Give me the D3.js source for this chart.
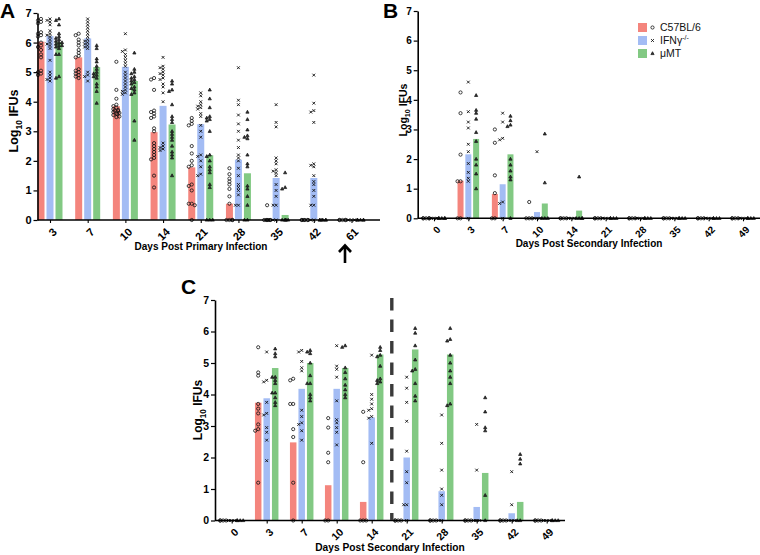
<!DOCTYPE html>
<html><head><meta charset="utf-8">
<script src="https://cdn.jsdelivr.net/npm/d3@7"></script>
<style>body{margin:0;background:#fff}</style>
</head><body>
<svg id="chart" width="760" height="555"></svg>
<script>
// ---------- data ----------
const seriesNames = ["C57BL/6", "IFNγ", "μMT"];
const seriesColors = ["#f4857d", "#a3bcf4", "#82c983"];
const seriesMarkers = ["circle", "cross", "triangle"];
const yTicks = [0, 1, 2, 3, 4, 5, 6, 7];

// Panel A: primary infection
const daysA = ["3", "7", "10", "14", "21", "28", "35", "42", "61"];
const meanA_B6 = [6.03, 5.5, 3.85, 2.97, 1.78, 0.55, 0, 0, 0];
const meanA_IFNg = [6.22, 6.14, 5.18, 3.86, 3.24, 2.04, 1.42, 1.42, 0];
const meanA_muMT = [6.02, 5.17, 4.7, 3.23, 2.19, 1.58, 0.17, 0, 0];
const ptsA_B6 = [
  [6.8, 6.75, 6.7, 6.65, 6.35, 6.3, 6.25, 6.2, 6.0, 5.9, 5.85, 5.75, 5.6, 5.5, 5.05, 5.0, 4.95, 4.9],
  [6.3, 6.25, 6.1, 6.0, 5.9, 5.75, 5.65, 5.55, 5.5, 5.1, 5.05, 5.0, 4.95, 4.9, 4.85, 4.8],
  [5.35, 4.4, 4.1, 3.9, 3.85, 3.8, 3.75, 3.72, 3.7, 3.68, 3.65, 3.62, 3.6, 3.58, 3.55, 3.5, 3.48],
  [4.8, 4.75, 4.4, 3.7, 3.65, 3.6, 3.5, 3.45, 3.1, 3.0, 2.6, 2.5, 2.4, 2.3, 2.2, 2.1, 2.05, 1.5, 1.1],
  [3.45, 3.35, 3.25, 3.2, 2.5, 2.25, 2.0, 1.85, 1.8, 1.2, 1.15, 1.0, 0.55, 0.55, 0.5, 0],
  [1.75, 1.55, 1.4, 1.3, 1.2, 1.05, 0.8, 0.55, 0, 0, 0, 0],
  [0.5, 0, 0, 0, 0, 0, 0],
  [0, 0, 0, 0, 0, 0],
  [0, 0, 0, 0, 0]
];
const ptsA_IFNg = [
  [6.8, 6.75, 6.7, 6.6, 6.4, 6.3, 6.25, 6.2, 6.1, 6.0, 5.95, 5.9, 5.8, 5.4, 5.0, 4.9, 4.8, 4.75, 4.7],
  [6.8, 6.7, 6.6, 6.5, 6.4, 6.3, 6.2, 6.1, 6.05, 6.0, 5.95, 5.9, 5.85, 5.8, 5.0, 4.9, 4.85, 4.7],
  [6.3, 5.75, 5.7, 5.6, 5.5, 5.4, 5.3, 5.2, 5.0, 4.9, 4.8, 4.7, 4.6, 4.5, 4.4, 4.35, 4.3, 4.25],
  [5.5, 5.2, 5.15, 5.1, 5.0, 4.95, 4.9, 4.8, 4.75, 4.6, 4.5, 4.3, 4.0, 2.6, 2.5, 2.45, 2.4, 2.35],
  [4.3, 4.2, 4.0, 3.9, 3.85, 3.8, 3.75, 3.6, 3.5, 3.2, 3.0, 2.8, 2.2, 2.15, 2.0, 1.8, 1.55, 1.5],
  [5.15, 4.05, 3.9, 3.55, 3.25, 3.0, 2.7, 2.45, 2.2, 2.1, 2.0, 1.75, 1.5, 1.2, 1.1, 1.0, 0.85, 0.5, 0.5],
  [3.9, 3.3, 3.15, 2.1, 2.0, 1.9, 1.7, 1.65, 1.6, 1.5, 1.2, 1.0, 0.8, 0.5, 0.5, 0, 0],
  [4.9, 3.95, 3.7, 3.65, 3.3, 1.9, 1.85, 1.8, 1.5, 1.3, 1.2, 1.0, 0.8, 0.5, 0.5, 0, 0],
  [0, 0, 0, 0, 0]
];
const ptsA_muMT = [
  [6.8, 6.75, 6.6, 6.3, 6.2, 6.15, 6.1, 6.05, 6.0, 6.0, 5.95, 5.9, 5.9, 5.85, 5.8, 5.6, 5.6, 4.85, 4.8],
  [5.9, 5.8, 5.45, 5.35, 5.2, 5.1, 5.0, 4.95, 4.9, 4.85, 4.8, 4.6, 4.5, 4.35, 3.95],
  [5.65, 5.1, 5.0, 4.95, 4.85, 4.8, 4.75, 4.7, 4.65, 4.6, 4.5, 4.45, 4.4, 4.3, 4.25, 3.35, 2.7],
  [4.7, 4.6, 4.4, 4.35, 3.9, 3.5, 3.4, 3.3, 3.0, 2.9, 2.8, 2.7, 2.5, 2.3, 2.2, 2.1, 1.5],
  [4.4, 4.1, 3.8, 3.5, 3.45, 3.4, 3.35, 3.0, 2.2, 2.15, 2.0, 1.8, 1.7, 1.6, 1.2, 1.1, 0, 0, 0],
  [3.65, 3.4, 3.05, 2.85, 2.8, 2.75, 2.2, 1.9, 1.8, 1.15, 1.05, 0.8, 0.5, 0, 0],
  [1.6, 1.1, 1.05, 0, 0, 0, 0, 0],
  [0, 0, 0, 0, 0, 0],
  [0, 0, 0, 0, 0]
];

// Panel B: secondary infection
const daysB = ["0", "3", "7", "10", "14", "21", "28", "35", "42", "49"];
const meanB_B6 = [0, 1.27, 0.82, 0, 0, 0, 0, 0, 0, 0];
const meanB_IFNg = [0, 2.16, 1.15, 0.21, 0, 0, 0, 0, 0, 0];
const meanB_muMT = [0, 2.68, 2.16, 0.5, 0.26, 0, 0, 0, 0, 0];
const ptsB_B6 = [
  [0, 0, 0, 0, 0], [4.25, 3.55, 2.15, 1.25, 1.25, 0, 0], [3.0, 2.55, 1.45, 0.85, 0, 0],
  [0.55, 0, 0, 0], [0, 0, 0, 0], [0, 0, 0, 0], [0, 0, 0, 0], [0, 0, 0, 0], [0, 0, 0, 0], [0, 0, 0, 0]
];
const ptsB_IFNg = [
  [0, 0, 0, 0, 0], [4.6, 3.6, 3.25, 3.05, 2.5, 2.25, 1.85, 1.55, 1.35, 1.25, 0],
  [3.55, 3.25, 2.7, 2.65, 0.55, 0.5, 0], [2.25, 0, 0, 0], [0, 0, 0, 0],
  [0, 0, 0, 0], [0, 0, 0, 0], [0, 0, 0, 0], [0, 0, 0, 0], [0, 0, 0, 0]
];
const ptsB_muMT = [
  [0, 0, 0, 0, 0], [4.15, 3.65, 3.55, 3.35, 2.9, 2.6, 2.0, 1.8, 1.5, 1.0],
  [3.45, 3.3, 3.15, 3.1, 2.0, 1.8, 1.6, 1.4, 1.3, 0], [2.85, 1.2, 0, 0, 0], [1.4, 0, 0, 0, 0],
  [0, 0, 0, 0], [0, 0, 0, 0], [0, 0, 0, 0], [0, 0, 0, 0], [0, 0, 0, 0]
];

// Panel C
const daysC = ["0", "3", "7", "10", "14", "21", "28", "35", "42", "49"];
const meanC_B6 = [0, 3.74, 2.48, 1.12, 0.59, 0, 0, 0, 0, 0];
const meanC_IFNg = [0, 3.88, 4.18, 4.18, 3.27, 2.0, 0.93, 0.43, 0.23, 0];
const meanC_muMT = [0, 4.84, 5.0, 4.84, 5.27, 5.43, 5.27, 1.51, 0.59, 0];
const ptsC_B6 = [
  [0, 0, 0, 0], [5.5, 4.7, 4.6, 3.7, 3.55, 3.4, 3.05, 2.9, 2.85, 1.2],
  [4.5, 4.45, 3.7, 3.7, 2.9, 2.65, 1.2, 0], [3.25, 2.95, 2.15, 1.85, 0, 0], [3.45, 1.85, 0, 0, 0],
  [0, 0, 0, 0], [0, 0, 0, 0], [0, 0, 0, 0], [0, 0, 0, 0], [0, 0, 0, 0]
];
const ptsC_IFNg = [
  [0, 0, 0, 0], [5.35, 4.45, 4.4, 3.75, 3.4, 3.35, 2.95, 2.8, 2.55, 1.9],
  [5.4, 5.35, 5.05, 4.85, 4.75, 3.5, 3.3, 3.1, 3.05, 2.85, 2.55],
  [5.55, 4.9, 4.8, 4.55, 3.8, 3.2, 3.1, 2.95, 2.8, 2.4],
  [5.25, 4.0, 3.85, 3.7, 3.55, 3.5, 3.3, 3.25, 2.45],
  [4.55, 4.2, 3.75, 3.15, 2.2, 1.55, 1.2, 0.5, 0.5, 0],
  [3.35, 2.45, 1.6, 1.0, 0.8, 0.5, 0, 0], [3.05, 1.6, 0, 0, 0, 0], [1.55, 0.5, 0, 0, 0], [0, 0, 0, 0]
];
const ptsC_muMT = [
  [0, 0, 0, 0], [5.45, 5.3, 5.2, 4.55, 4.55, 4.45, 4.35, 4.05, 4.05, 3.9, 3.75, 3.65],
  [5.4, 5.35, 5.3, 5.0, 4.6, 4.35, 4.35, 4.0, 3.9, 3.8],
  [5.55, 5.5, 4.85, 4.7, 4.5, 4.3, 4.15, 4.0, 3.9],
  [5.5, 5.4, 5.25, 5.2, 4.9, 4.5, 4.45, 4.4, 4.35],
  [6.1, 5.95, 5.55, 5.1, 4.8, 4.75, 4.35, 3.95, 3.8],
  [6.1, 5.75, 5.7, 5.25, 5.0, 4.75, 4.55, 4.35, 3.7, 3.65],
  [3.9, 3.45, 2.95, 2.85, 0.8, 0], [2.1, 1.95, 1.8, 0, 0], [0, 0, 0, 0]
];

// ---------- drawing ----------
const FONT = "Arial, 'Liberation Sans', Helvetica, sans-serif";
const svg = d3.select("#chart");

function drawMarker(g, type, x, y) {
  if (type === "circle") {
    g.append("circle").attr("cx", x).attr("cy", y).attr("r", 1.6)
      .attr("fill", "none").attr("stroke", "#111").attr("stroke-width", 0.8);
  } else if (type === "cross") {
    g.append("path").attr("transform", `translate(${x},${y})`)
      .attr("d", "M-1.4,-1.4L1.4,1.4M-1.4,1.4L1.4,-1.4")
      .attr("stroke", "#111").attr("stroke-width", 0.9);
  } else {
    g.append("path").attr("transform", `translate(${x},${y})`)
      .attr("d", "M0,-1.8L1.6,1.1L-1.6,1.1Z")
      .attr("fill", "#333").attr("stroke", "#111").attr("stroke-width", 0.7);
  }
}

function panel(cfg) {
  const g = svg.append("g");
  const y = d3.scaleLinear().domain([0, 7]).range(cfg.yRange);
  const x = d3.scalePoint().domain(cfg.days).range(cfg.xRange);

  // bars
  cfg.means.forEach((m, s) => {
    g.append("g").selectAll("rect")
      .data(cfg.days.map((d, i) => ({ d, v: m[i] })))
      .join("rect")
      .attr("x", d => x(d.d) + cfg.off * (s - 1) - cfg.barW / 2)
      .attr("y", d => y(d.v))
      .attr("width", cfg.barW)
      .attr("height", d => y(0) - y(d.v))
      .attr("fill", seriesColors[s]);
  });

  // points (compact beeswarm)
  const pg = g.append("g");
  cfg.points.forEach((ptsBySeries, s) => {
    ptsBySeries.forEach((vals, i) => {
      const cx = x(cfg.days[i]) + cfg.off * (s - 1);
      const placed = [];
      const cands = [0, -1.8, 1.8, -3, 3, -0.9, 0.9];
      vals.forEach((v, k) => {
        const py = y(v);
        let dx = null;
        for (const c of cands) {
          if (placed.every(p => Math.hypot(p[0] - c, p[1] - py) >= 2.9)) { dx = c; break; }
        }
        if (dx === null) dx = cands[k % cands.length];
        placed.push([dx, py]);
        drawMarker(pg, seriesMarkers[s], cx + dx, py);
      });
    });
  });

  // y axis
  const ya = g.append("g").attr("transform", `translate(${cfg.axisX[0]},0)`)
    .call(d3.axisLeft(y).tickValues(yTicks).tickSize(4).tickSizeOuter(0).tickFormat(d3.format("d")));
  ya.select(".domain").attr("stroke", "#000").attr("stroke-width", 1.6);
  ya.selectAll(".tick line").attr("stroke-width", 1.2);
  ya.selectAll(".tick text").attr("font-family", FONT).attr("font-weight", "bold")
    .attr("font-size", cfg.tickFs).attr("fill", "#000").attr("x", -6);

  // x axis (ticks from the axis generator, rotated labels drawn explicitly)
  const xa = g.append("g").attr("transform", `translate(0,${y(0)})`)
    .call(d3.axisBottom(x).tickSize(3).tickSizeOuter(0).tickFormat(""));
  xa.select(".domain").remove();
  xa.selectAll(".tick text").remove();
  xa.append("line").attr("x1", cfg.axisX[0]).attr("x2", cfg.axisX[1])
    .attr("stroke", "#000").attr("stroke-width", 1.6);
  xa.selectAll(".tick line").attr("stroke-width", 1.1);
  g.append("g").selectAll("text").data(cfg.days).join("text")
    .attr("transform", d => `translate(${x(d) + 2},${y(0) + 7}) rotate(-45)`)
    .attr("text-anchor", "end").attr("dy", "0.72em")
    .attr("font-family", FONT).attr("font-weight", "bold")
    .attr("font-size", cfg.tickFs).attr("fill", "#000")
    .text(d => d);

  // axis titles
  g.append("text").attr("x", cfg.xTitle[0]).attr("y", cfg.xTitle[1])
    .attr("text-anchor", "middle").attr("font-family", FONT).attr("font-weight", "bold")
    .attr("font-size", cfg.titleFs).text(cfg.xLabel);
  const yt = g.append("text")
    .attr("transform", `translate(${cfg.yTitle[0]},${cfg.yTitle[1]}) rotate(-90)`)
    .attr("text-anchor", "middle").attr("font-family", FONT).attr("font-weight", "bold")
    .attr("font-size", cfg.yTitleFs);
  yt.append("tspan").text("Log");
  yt.append("tspan").attr("font-size", cfg.yTitleFs * 0.68).attr("dy", cfg.yTitleFs * 0.3).text("10");
  yt.append("tspan").attr("dy", -cfg.yTitleFs * 0.3).text(" IFUs");

  // panel letter
  svg.append("text").attr("x", cfg.letter[0]).attr("y", cfg.letter[1])
    .attr("font-family", FONT).attr("font-weight", "bold").attr("font-size", 21)
    .text(cfg.letter[2]);
  return { g, x, y };
}

panel({
  days: daysA, means: [meanA_B6, meanA_IFNg, meanA_muMT], points: [ptsA_B6, ptsA_IFNg, ptsA_muMT],
  yRange: [220, 13], xRange: [50, 351.5], axisX: [37.5, 380], barW: 7, off: 9,
  tickFs: 11, titleFs: 10, yTitleFs: 12.5, xLabel: "Days Post Primary Infection",
  xTitle: [201, 250], yTitle: [18, 121], letter: [0, 18, "A"]
});

panel({
  days: daysB, means: [meanB_B6, meanB_IFNg, meanB_muMT], points: [ptsB_B6, ptsB_IFNg, ptsB_muMT],
  yRange: [218.3, 11], xRange: [434, 743], axisX: [417.7, 760], barW: 6, off: 7.8,
  tickFs: 10, titleFs: 10, yTitleFs: 10.5, xLabel: "Days Post Secondary Infection",
  xTitle: [589, 247], yTitle: [407, 110], letter: [383, 18, "B"]
});

panel({
  days: daysC, means: [meanC_B6, meanC_IFNg, meanC_muMT], points: [ptsC_B6, ptsC_IFNg, ptsC_muMT],
  yRange: [520.5, 300], xRange: [231.7, 546.7], axisX: [215, 565], barW: 6.5, off: 8.5,
  tickFs: 10.5, titleFs: 10.2, yTitleFs: 12, xLabel: "Days Post Secondary Infection",
  xTitle: [390, 551], yTitle: [202, 410], letter: [181, 294, "C"]
});

// dashed divider in C
svg.append("line").attr("x1", 391.8).attr("x2", 391.8).attr("y1", 298).attr("y2", 520)
  .attr("stroke", "#3a3a3a").attr("stroke-width", 3.4).attr("stroke-dasharray", "12.5,9");

// arrow under day 61 in A
svg.append("path").attr("d", "M345,263L345,246M339,252L345,245.5L351,252")
  .attr("fill", "none").attr("stroke", "#000").attr("stroke-width", 2.6)
  .attr("stroke-linejoin", "miter");

// legend in B
const lg = svg.append("g");
seriesNames.forEach((name, i) => {
  const cy = 27.5 + i * 13;
  lg.append("rect").attr("x", 638).attr("y", cy - 4.5).attr("width", 9).attr("height", 9)
    .attr("fill", seriesColors[i]);
  drawMarker(lg, seriesMarkers[i], 652.5, cy);
  const t = lg.append("text").attr("x", 660).attr("y", cy + 3.7)
    .attr("font-family", FONT).attr("font-size", 10.5).attr("fill", "#111").text(name);
  if (i === 1) t.append("tspan").attr("font-size", 7).attr("dy", -4).text("-/-");
});
</script>
</body></html>
